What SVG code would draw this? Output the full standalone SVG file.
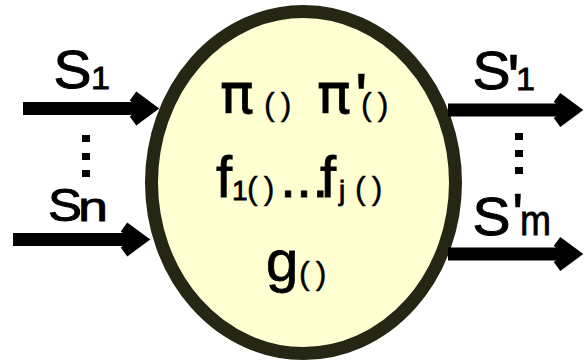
<svg xmlns="http://www.w3.org/2000/svg" width="584" height="364" viewBox="0 0 584 364">
<style>
text{font-family:"Liberation Sans",Arial,sans-serif;fill:#000;stroke:#000;stroke-width:0.8}
.big{font-size:58px}
.pi{font-family:"DejaVu Sans",sans-serif;font-size:56px}
.sub{font-size:28px}
.par{font-size:32px;letter-spacing:6px;stroke-width:0.4}
.lbl{font-size:54px;stroke-width:1}
.node{fill:#FFFFD2;stroke:#262615;stroke-width:13}
.shaft{stroke:#000;stroke-width:13;fill:none}
.dot{fill:#000}
</style>
<defs>
<marker id="ah" markerUnits="userSpaceOnUse" markerWidth="50" markerHeight="50" viewBox="-30 -25 50 50" refX="0" refY="0" orient="auto" overflow="visible">
<path d="M-17,-12.5 L0,0 L-17,12.5" fill="none" stroke="#000" stroke-width="11" stroke-linejoin="miter" stroke-miterlimit="10"/>
</marker>
</defs>
<g id="process">
<ellipse class="node" cx="303.5" cy="182.5" rx="152" ry="171"/>
<text class="pi" x="220" y="113">π</text>
<text class="par" x="264" y="115">()</text>
<text class="pi" x="317" y="113">π</text>
<text x="355" y="120" style="font-size:66px;stroke-width:0.5">'</text>
<text class="par" x="361" y="115">()</text>
<text class="big" x="216" y="197">f</text>
<text class="sub" x="232" y="200">1</text>
<text class="par" x="247" y="199">()</text>
<text class="big" x="280" y="197">...</text>
<text class="big" x="320" y="197">f</text>
<text class="sub" x="339" y="200">j</text>
<text class="par" x="355" y="199">()</text>
<text class="big" x="266" y="281">g</text>
<text class="par" x="299" y="284">()</text>
</g>
<g id="connectors">
<line class="shaft" x1="23" y1="108.5" x2="150" y2="108.5" marker-end="url(#ah)"/>
<line class="shaft" x1="13" y1="239.5" x2="141" y2="239.5" marker-end="url(#ah)"/>
<line class="shaft" x1="448" y1="110" x2="574" y2="110" marker-end="url(#ah)"/>
<line class="shaft" x1="448" y1="254" x2="574" y2="254" marker-end="url(#ah)"/>
</g>
<g id="labels">
<text class="lbl" x="53.4" y="88" textLength="38" lengthAdjust="spacingAndGlyphs">S</text>
<text x="91" y="89" style="font-size:31px" textLength="19" lengthAdjust="spacingAndGlyphs">1</text>
<text x="48" y="221" style="font-size:47px;stroke-width:1" textLength="34" lengthAdjust="spacingAndGlyphs">S</text>
<text x="78" y="221" style="font-size:41px" textLength="30" lengthAdjust="spacingAndGlyphs">n</text>
<text class="lbl" x="472.4" y="89" textLength="38" lengthAdjust="spacingAndGlyphs">S</text>
<text x="507" y="102" style="font-size:68px;stroke-width:0.5">'</text>
<text x="516" y="90" style="font-size:31px" textLength="19" lengthAdjust="spacingAndGlyphs">1</text>
<text class="lbl" x="472.4" y="235" textLength="38" lengthAdjust="spacingAndGlyphs">S</text>
<text x="512" y="235" style="font-size:60px;stroke-width:0.5">'</text>
<text x="520" y="235" style="font-size:42px" textLength="31" lengthAdjust="spacingAndGlyphs">m</text>
</g>
<g id="ellipsis-left">
<rect class="dot" x="82" y="135" width="8" height="7"/>
<rect class="dot" x="82" y="153" width="8" height="7"/>
<rect class="dot" x="82" y="170" width="8" height="7"/>
</g>
<g id="ellipsis-right">
<rect class="dot" x="515" y="133" width="8" height="7"/>
<rect class="dot" x="515" y="150" width="8" height="7"/>
<rect class="dot" x="515" y="167" width="8" height="7"/>
</g>
</svg>
